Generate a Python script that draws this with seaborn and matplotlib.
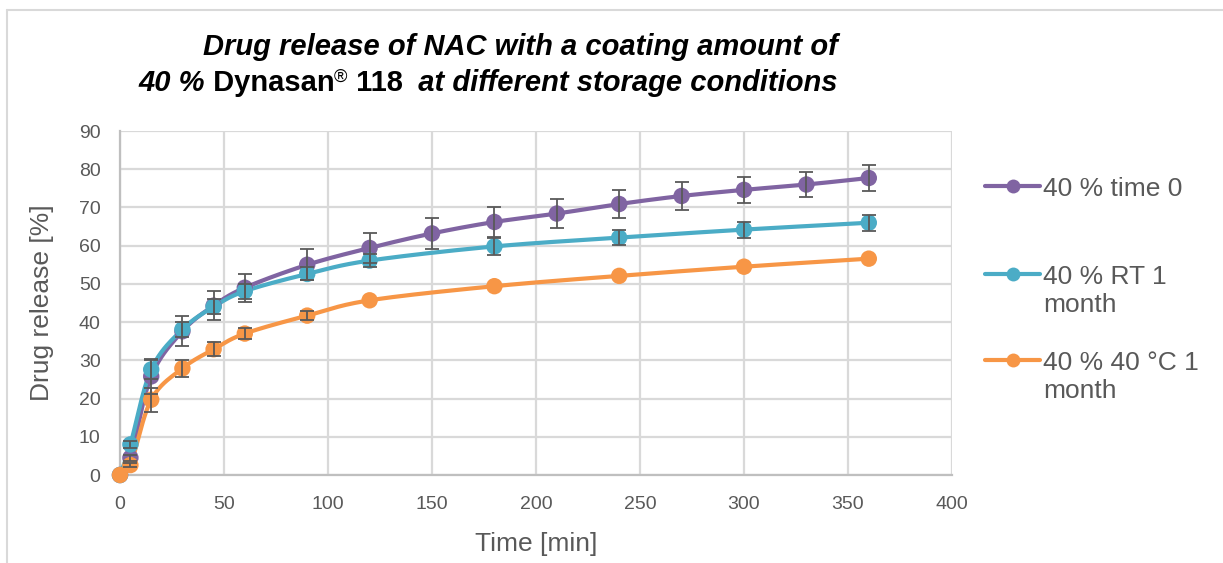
import numpy as np
import pandas as pd
import matplotlib
matplotlib.use("Agg")
import matplotlib.pyplot as plt
from matplotlib.lines import Line2D
import seaborn as sns

# ---- data ---------------------------------------------------------------
time_t0 = [0, 5, 15, 30, 45, 60, 90, 120, 150, 180, 210, 240, 270, 300, 330, 360]
rel_t0 = [0.0, 4.5, 25.8, 37.6, 44.3, 49.0, 55.0, 59.4, 63.2, 66.2, 68.4, 70.9, 73.0, 74.6, 76.0, 77.7]
err_t0 = [0.0, 0.8, 4.5, 3.9, 3.8, 3.7, 4.1, 4.0, 4.1, 3.9, 3.8, 3.6, 3.6, 3.4, 3.3, 3.3]

time_rt = [0, 5, 15, 30, 45, 60, 90, 120, 180, 240, 300, 360]
rel_rt = [0.0, 8.0, 27.6, 38.1, 44.0, 48.1, 52.6, 56.1, 59.8, 62.1, 64.2, 66.0]
err_rt = [0.0, 1.0, 2.5, 2.0, 2.0, 2.0, 1.7, 1.7, 2.2, 2.0, 2.1, 2.1]

time_40c = [0, 5, 15, 30, 45, 60, 90, 120, 180, 240, 300, 360]
rel_40c = [0.0, 2.6, 19.7, 27.9, 32.9, 37.0, 41.7, 45.7, 49.4, 52.1, 54.5, 56.6]
err_40c = [0.0, 0.5, 3.1, 2.2, 1.8, 1.5, 1.2, 0.0, 0.0, 0.0, 0.0, 0.0]

labels = ["40 % time 0", "40 % RT 1\nmonth", "40 % 40 °C 1\nmonth"]
colors = ["#8064A2", "#4BACC6", "#F79646"]

x_ticks = [0, 50, 100, 150, 200, 250, 300, 350, 400]
y_ticks = [0, 10, 20, 30, 40, 50, 60, 70, 80, 90]

title_line1 = "Drug release of NAC with a coating amount of"
# second title line: (text, italic, size scale, raised)
title_line2 = [("40 %", True, 1.0, False), (" Dynasan", False, 1.0, False),
               ("®", False, 0.62, True), (" 118", False, 1.0, False),
               ("  at different storage conditions", True, 1.0, False)]

series = [(time_t0, rel_t0, err_t0), (time_rt, rel_rt, err_rt), (time_40c, rel_40c, err_40c)]


def smooth_path(xs, ys, sx=832 / 400, sy=344 / 90, n=24):
    """Bezier smoothing through the points (tension like spreadsheet smoothed lines)."""
    p = np.column_stack([np.asarray(xs, float) * sx, np.asarray(ys, float) * sy])
    out = [p[0]]
    for i in range(len(p) - 1):
        p0 = p[i - 1] if i > 0 else p[i]
        p1, p2 = p[i], p[i + 1]
        p3 = p[i + 2] if i + 2 < len(p) else p[i + 1]
        c1 = p1 + (p2 - p0) / 6.0
        c2 = p2 - (p3 - p1) / 6.0
        t = np.linspace(0, 1, n)[1:, None]
        seg = ((1 - t) ** 3) * p1 + 3 * ((1 - t) ** 2) * t * c1 + 3 * (1 - t) * t ** 2 * c2 + t ** 3 * p2
        out.extend(seg)
    out = np.array(out)
    return out[:, 0] / sx, out[:, 1] / sy


# ---- figure ---------------------------------------------------------------
sns.set_theme(style="white")
plt.rcParams["font.family"] = ["Liberation Sans", "DejaVu Sans"]

W, H = 1223, 563
fig = plt.figure(figsize=(W / 100, H / 100), dpi=100)
ax = fig.add_axes([120 / W, 1 - 475 / H, 832 / W, 344 / H])

for (xs, ys, es), col, lab in zip(series, colors, labels):
    cx, cy = smooth_path(xs, ys)
    curve = pd.DataFrame({"t": cx, "r": cy})
    sns.lineplot(data=curve, x="t", y="r", ax=ax, color=col, lw=3.0, sort=False,
                 estimator=None, zorder=3, legend=False, clip_on=False)
    pts = pd.DataFrame({"t": xs, "r": ys})
    sns.scatterplot(data=pts, x="t", y="r", ax=ax, color=col, s=140, edgecolor="none",
                    zorder=4, legend=False, clip_on=False)

for (xs, ys, es), col in zip(series, colors):
    xs_e = [x for x, e in zip(xs, es) if e > 0]
    ys_e = [y for y, e in zip(ys, es) if e > 0]
    ee = [e for e in es if e > 0]
    ax.errorbar(xs_e, ys_e, yerr=ee, fmt="none", ecolor="#595959", elinewidth=1.3,
                capsize=5, capthick=1.3, zorder=5)

ax.set_xlim(0, 400)
ax.set_ylim(0, 90)
ax.set_xticks(x_ticks)
ax.set_yticks(y_ticks)
ax.set_xticklabels([str(v) for v in x_ticks])
ax.set_yticklabels([str(v) for v in y_ticks])
ax.grid(True, color="#D9D9D9", lw=1.6)
ax.set_axisbelow(True)
for s in ["top", "right"]:
    ax.spines[s].set_visible(False)
for s in ["left", "bottom"]:
    ax.spines[s].set_color("#BFBFBF")
    ax.spines[s].set_linewidth(1.6)
ax.tick_params(axis="both", colors="#595959", labelsize=14, length=0)
ax.tick_params(axis="y", pad=14)
ax.tick_params(axis="x", pad=15)
ax.set_xlabel("Time [min]", fontsize=19, color="#595959", labelpad=14)
ax.set_ylabel("Drug release [%]", fontsize=19, color="#595959", labelpad=18)

# legend, laid out entry by entry (handle beside the first text line)
leg_rows = [186, 274, 360]
leg_line_gap = 28.5
for yrow, col, lab in zip(leg_rows, colors, labels):
    yf = 1 - yrow / H
    fig.add_artist(Line2D([985 / W, 1040 / W], [yf, yf], transform=fig.transFigure,
                          color=col, lw=3.0))
    fig.add_artist(Line2D([1012.5 / W], [yf], transform=fig.transFigure, color=col,
                          marker="o", markersize=10, markeredgewidth=0))
    for k, part in enumerate(lab.split("\n")):
        fig.text(1043 / W, 1 - (yrow + k * leg_line_gap) / H, part, ha="left",
                 va="center_baseline", fontsize=19, color="#595959")

# title, two lines, right-aligned at the same edge
tsize = 21
fig.text(838 / W, 1 - 47 / H, title_line1, ha="right", va="center", style="italic",
         fontsize=tsize, fontweight="bold", color="black")

renderer = fig.canvas.get_renderer()
pieces = []
for txt, ital, scale, raised in title_line2:
    pieces.append(fig.text(0, 0, txt, ha="left", va="baseline", fontsize=tsize * scale,
                           fontweight="bold" if scale == 1.0 else "normal",
                           style="italic" if ital else "normal", color="black"))
widths = [p.get_window_extent(renderer).width for p in pieces]
x = 838 - sum(widths)
base = 91
for p, w, (txt, ital, scale, raised) in zip(pieces, widths, title_line2):
    yb = base - (9 if raised else 0)
    p.set_position((x / W, 1 - yb / H))
    x += w

# chart-area frame (top and left edges)
fig.add_artist(Line2D([7 / W, 1], [1 - 10 / H, 1 - 10 / H], transform=fig.transFigure,
                      color="#D9D9D9", lw=1.5))
fig.add_artist(Line2D([7 / W, 7 / W], [0, 1 - 10 / H], transform=fig.transFigure,
                      color="#D9D9D9", lw=1.5))

fig.savefig("out.png", dpi=100)
